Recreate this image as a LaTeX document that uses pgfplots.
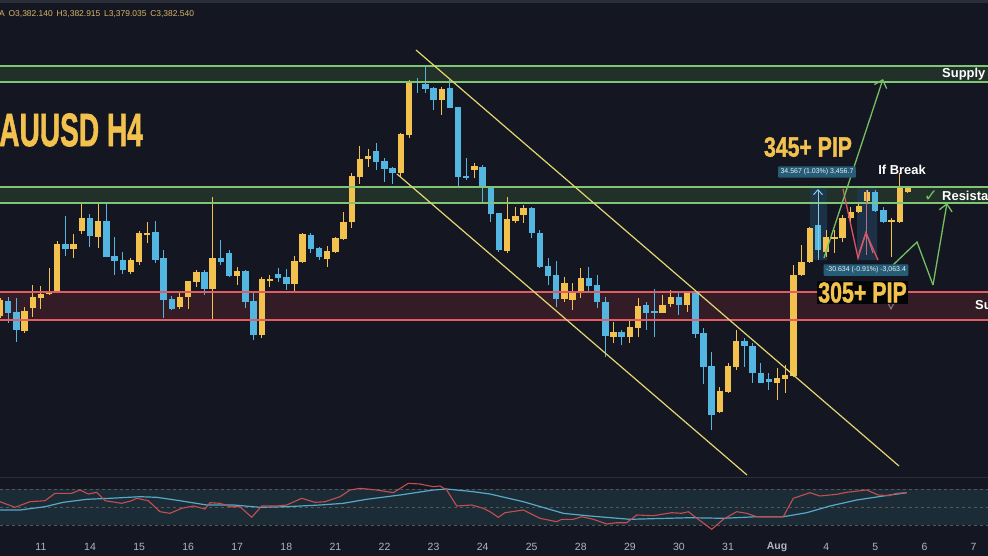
\documentclass[border=0pt]{standalone}
\usepackage{pgfplots}
\pgfplotsset{compat=1.18}
\usepackage{pgfplotstable}
\usepackage{fontspec}
\setmainfont{Liberation Sans}
\newfontfamily\dejavu{DejaVu Sans}
\newfontfamily\heavy{Liberation Sans Bold}[FakeBold=1.6]
\usetikzlibrary{arrows.meta}
\definecolor{bg}{RGB}{20,23,33}
\definecolor{upc}{RGB}{242,193,78}
\definecolor{dnc}{RGB}{82,182,224}
\definecolor{tl}{RGB}{228,214,112}
\definecolor{zg}{RGB}{128,196,118}
\definecolor{zgf}{RGB}{33,48,40}
\definecolor{zr}{RGB}{226,92,100}
\definecolor{zrf}{RGB}{52,28,38}
\definecolor{rsif}{RGB}{27,44,54}
\definecolor{rsir}{RGB}{196,78,82}
\definecolor{rsib}{RGB}{88,168,200}
\definecolor{sep}{RGB}{42,46,57}
\definecolor{txt}{RGB}{178,182,192}
\definecolor{grn}{RGB}{118,190,98}
\definecolor{red2}{RGB}{222,82,98}
\definecolor{mbox}{RGB}{38,92,118}
\definecolor{mfill}{RGB}{30,56,78}
\definecolor{hdr}{RGB}{214,182,104}

% candles: i = bar index, pixel rows (y grows downward)
\pgfplotstableread{
i o h l c
0 316 298 318 300
3 331 307 333 311
4 308 285 317 297
5 298 286 309 294
6 294 268 295 292
7 292 241 293 244
9 249 234 258 244
10 231 203 234 218
12 237 203 248 221
16 272 258 274 260
17 262 231 265 233
18 235 222 243 233
22 307 293 309 297
23 297 281 309 281
24 282 270 287 272
26 289 197 320 258
29 276 267 285 271
32 335 277 338 279
33 281 275 287 279
36 284 256 292 261
37 262 233 263 234
40 259 246 267 251
41 252 237 253 238
42 239 212 240 222
43 222 173 228 176
44 177 146 184 159
45 159 149 167 156
49 173 133 177 134
50 135 80 138 81
54 100 87 115 89
58 170 163 178 166
62 251 197 253 219
63 221 207 223 216
64 215 205 223 208
69 299 277 302 283
70 300 283 310 292
71 292 268 298 278
75 337 322 343 332
77 337 320 343 327
78 328 298 337 306
81 313 295 313 305
82 304 290 307 297
84 305 292 312 293
88 412 387 413 391
89 392 363 393 366
90 367 330 370 341
95 383 368 400 378
96 379 365 393 375
97 376 265 377 275
98 275 245 276 262
99 262 227 263 228
101 252 230 257 237
102 239 230 253 237
103 238 215 242 218
104 218 207 222 212
105 212 203 213 206
106 201 190 202 192
109 222 218 257 220
110 222 173 223 187
111 192 186 193 188
}\upbars
\pgfplotstableread{
i o h l c
1 301 297 323 313
2 312 298 342 330
8 244 216 256 249
11 218 214 247 236
13 221 203 257 257
14 256 237 275 261
15 260 252 274 270
19 232 221 263 260
20 258 250 318 300
21 299 296 310 309
25 272 270 295 289
27 258 240 265 262
28 253 250 277 276
30 271 270 308 302
31 301 293 340 335
34 274 268 282 278
35 277 269 290 284
38 235 233 253 249
39 248 247 260 257
46 151 143 170 162
47 161 158 182 169
48 168 167 184 173
51 81 78 93 83
52 84 67 93 89
53 88 87 110 100
55 88 80 108 108
56 107 107 188 177
57 176 158 180 178
59 167 165 202 187
60 187 187 222 214
61 213 213 252 250
65 208 207 238 233
66 233 230 268 267
67 266 258 285 276
68 275 261 307 299
72 278 267 292 286
73 285 275 308 302
74 302 297 357 336
76 332 330 345 337
79 305 302 330 313
80 311 289 337 313
83 297 293 315 305
85 293 292 338 334
86 333 328 384 367
87 366 352 430 415
91 341 338 367 346
92 346 343 383 373
93 373 363 383 383
94 379 373 390 382
100 225 223 260 250
107 192 190 212 211
108 210 207 223 222
}\dnbars

\begin{document}
\begin{tikzpicture}
\useasboundingbox (0,0) rectangle (988bp,556bp);
\clip (0,0) rectangle (988bp,556bp);
\fill[bg] (0,0) rectangle (988bp,556bp);
\begin{axis}[
  at={(0,0)}, anchor=south west,
  scale only axis, width=988bp, height=556bp,
  xmin=0, xmax=988, ymin=0, ymax=556, y dir=reverse,
  axis line style={draw=none}, tick style={draw=none},
  ytick=\empty,
  xtick={40.9,90,139.1,188.1,237.2,286.3,335.4,384.5,433.5,482.6,531.7,580.8,629.9,678.9,728,777.1,826.2,875.3,924.4,973.4},
  xticklabels={11,14,15,16,17,18,21,22,23,24,25,28,29,30,31,\textbf{Aug},4,5,6,7},
  xticklabel pos=lower,
  xticklabel style={anchor=center, yshift=9bp, font=\fontsize{10.5}{12}\selectfont, text=txt},
  clip=true,
]
% header strip
\addplot[fill=sep, draw=none] coordinates {(0,0) (988,0) (988,3) (0,3) (0,0)};
% zones fills
\addplot[fill=zgf, draw=none] coordinates {(0,66) (988,66) (988,82) (0,82) (0,66)};
\addplot[fill=zgf, draw=none] coordinates {(0,187) (988,187) (988,203) (0,203) (0,187)};
\addplot[fill=zrf, draw=none] coordinates {(0,292) (988,292) (988,320) (0,320) (0,292)};
% measurement shading
\addplot[fill=mfill, draw=none, opacity=0.8] coordinates {(810,187) (827,187) (827,260) (810,260) (810,187)};
\addplot[fill=mfill, draw=none, opacity=0.8] coordinates {(857,188) (877,188) (877,260) (857,260) (857,188)};
% candles
\addplot[upc, line width=1bp, no marks, quiver={u=0, v=\thisrow{l}-\thisrow{h}}] table[x expr=\thisrow{i}*8.18, y=h] {\upbars};
\addplot[upc, line width=6.4bp, no marks, quiver={u=0, v=\thisrow{c}-\thisrow{o}}] table[x expr=\thisrow{i}*8.18, y=o] {\upbars};
\addplot[dnc, line width=1bp, no marks, quiver={u=0, v=\thisrow{l}-\thisrow{h}}] table[x expr=\thisrow{i}*8.18, y=h] {\dnbars};
\addplot[dnc, line width=6.4bp, no marks, quiver={u=0, v=\thisrow{c}-\thisrow{o}}] table[x expr=\thisrow{i}*8.18, y=o] {\dnbars};
% zone lines
\addplot[zg, line width=1.3bp] coordinates {(0,66) (988,66)};
\addplot[zg, line width=1.3bp] coordinates {(0,82) (988,82)};
\addplot[zg, line width=1.3bp] coordinates {(0,187) (988,187)};
\addplot[zg, line width=1.3bp] coordinates {(0,203) (988,203)};
\addplot[zr, line width=1.3bp] coordinates {(0,292) (988,292)};
\addplot[zr, line width=1.3bp] coordinates {(0,320) (988,320)};
% channel lines
\addplot[tl, line width=1.2bp] coordinates {(416,50) (899,466)};
\addplot[tl, line width=1.2bp] coordinates {(397,174) (747,475)};
% measurement arrows
\addplot[dnc!70!white, line width=1bp, -{Straight Barb[length=5bp,width=9bp]}] coordinates {(818,258) (818,189)};
\addplot[red2!70!dnc, line width=1bp] coordinates {(866,190) (866,255)};
\addplot[red2!70!dnc, line width=1bp] coordinates {(859,253) (866,232) (873,253)};
% projections
\addplot[red2, line width=1.3bp] coordinates {(843,189) (858,258) (866,233) (878,260)};
\addplot[grn, line width=1.3bp, -{Straight Barb[length=7bp,width=13bp]}] coordinates {(824,258) (883,79)};
\addplot[grn, line width=1.3bp] coordinates {(893,265) (917,242) (933,285)};
\addplot[grn, line width=1.3bp, -{Straight Barb[length=7bp,width=13bp]}] coordinates {(933,285) (947,203)};
\addplot[gray, line width=1bp] coordinates {(888,303) (891,309) (894,303)};
% RSI panel
\addplot[sep, line width=1bp] coordinates {(0,477) (988,477)};
\addplot[fill=rsif, draw=none] coordinates {(0,489) (988,489) (988,525) (0,525) (0,489)};
\addplot[gray!60!bg, dashed, line width=0.8bp] coordinates {(0,489) (988,489)};
\addplot[gray!60!bg, dashed, line width=0.8bp] coordinates {(0,507) (988,507)};
\addplot[gray!60!bg, dashed, line width=0.8bp] coordinates {(0,525) (988,525)};
\addplot[rsib, line width=1.2bp] coordinates {(0,510) (20,510) (45,506.7) (63.3,502.3) (86.7,499.3) (110,498.3) (140,496.7) (156.7,497.3) (180,500.7) (206.7,505) (233.3,505) (260,507.3) (286.7,506.7) (320,505) (343.3,503.3) (366.7,499.3) (400,495) (433.3,490) (446.7,489) (473.3,491.7) (490,494) (523.3,501.7) (563.3,513.3) (590,516) (630,519.3) (690,517.7) (723.3,518.3) (756.7,516.7) (783.3,516.7) (806.7,512.7) (830,506) (856.7,500) (890,495) (906.7,492.7)};
\addplot[rsir, line width=1.1bp] coordinates {(0,501.7) (15,507.3) (30,501.7) (45,500.7) (55,493.3) (71.7,493.3) (80,490) (88.3,494) (96.7,492.3) (105,500.7) (121.7,503.3) (131.7,500.7) (136.7,498.3) (148.3,500.7) (160,511.7) (170,513.3) (181.7,508.3) (193.3,506) (205,509) (210,502.7) (220,503.3) (230,506.7) (240,506.7) (251.7,517.3) (261.7,506) (276.7,506) (286.7,505) (301.7,498.3) (315,502.3) (325,501.7) (340,496.7) (350,490) (360,488.3) (376.7,490) (393.3,492.7) (408.3,483.3) (420,484) (433.3,486.7) (440,486) (446.7,490) (456.7,506) (471.7,505) (483.3,508.3) (490,511.7) (498.3,517.3) (505,512.7) (523.3,510) (540,518.3) (556.7,521.7) (561.7,519.3) (573.3,519.3) (581.7,516.7) (593.3,519.3) (606.7,524) (616.7,522.7) (626.7,522.7) (636.7,515) (653.3,515.7) (671.7,512.7) (681.7,513.3) (688.3,511.7) (698.3,519.3) (711.7,529.3) (723.3,519.3) (736.7,511.7) (746.7,513.3) (756.7,516.7) (783.3,516.7) (793.3,498.3) (810,492.7) (820,496) (836.7,494.3) (846.7,492.3) (866.7,490) (878.3,495) (888.3,495.7) (896.7,493.3) (906.7,492.7)};
% texts
\node[anchor=west, text=hdr, font=\fontsize{8.5}{10}\selectfont, inner sep=0] at (-1,14) {A\, O3,382.140\, H3,382.915\, L3,379.035\, C3,382.540};
\node[anchor=east, text=upc, font=\heavy\fontsize{47}{48}\selectfont, xscale=0.6, inner sep=0] at (143,130) {XAUUSD H4};
\node[text=upc, font=\heavy\fontsize{28}{30}\selectfont, xscale=0.76, inner sep=0] at (808,147) {345+ PIP};
\node[fill=mbox, text=white!85!dnc, font=\fontsize{7}{8}\selectfont, inner sep=2.5bp, rounded corners=1bp] at (817,172) {34.567 (1.03\%) 3,456.7};
\node[fill=mbox, text=white!85!dnc, font=\fontsize{7}{8}\selectfont, inner sep=2.5bp, rounded corners=1bp] at (866,270) {-30.634 (-0.91\%) -3,063.4};
\node[fill=black!80!bg, text=upc, font=\heavy\fontsize{29}{30}\selectfont, xscale=0.74, inner sep=1bp] at (862.5,292.5) {305+ PIP};
\node[text=white, font=\fontsize{13}{14}\selectfont\bfseries, inner sep=0] at (902,170) {If Break};
\node[anchor=west, text=white, font=\fontsize{13}{14}\selectfont\bfseries, inner sep=0] at (942,74) {Supply};
\node[anchor=west, text=white, font=\fontsize{13}{14}\selectfont\bfseries, inner sep=0] at (942,196) {Resistance};
\node[anchor=west, text=white, font=\fontsize{13}{14}\selectfont\bfseries, inner sep=0] at (975,306) {Support};
\node[text=grn, font=\dejavu\fontsize{17}{17}\selectfont\bfseries, inner sep=0] at (931,196) {✓};
\end{axis}
\end{tikzpicture}
\end{document}
